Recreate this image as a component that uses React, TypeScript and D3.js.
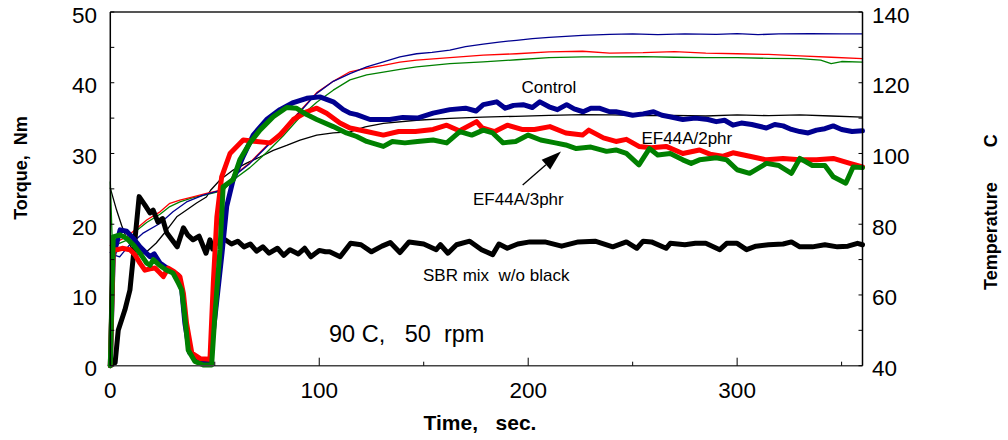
import React from "react";
import * as d3 from "d3";

type Pt = [number, number];

// Torque (left axis, Nm) — thick lines
const blackTorque: Pt[] = [[0,0],[2.3,0.4],[3.8,5],[7,7.9],[9.4,10.7],[11,15.4],[13.8,23.9],[16.6,22.7],[19,21.6],[20.5,22],[22.8,20.3],[25,20.8],[27,18.8],[29.5,17.8],[32,16.8],[35,19.5],[37,18.5],[39.6,17.8],[42.5,18.3],[45.8,15.9],[47.7,17.8],[49,16.5],[51,17.5],[55,17.8],[58,17.2],[61,17.6],[64,16.8],[67,17.2],[70,16.2],[73,16.8],[76,15.9],[80,16.6],[83,15.6],[86,16.4],[90,15.8],[93,16.6],[96,15.4],[100,16.3],[103,16.1],[105,16.1],[110,15.4],[115,17.3],[120,17.1],[125,16.1],[130,16.9],[134,17.4],[138.6,16],[143,17.5],[150,17.2],[156,16.4],[158,17.1],[161.6,15.9],[165.7,17.1],[172,17.6],[177.7,16.4],[183,15.7],[186,17.2],[190,16.6],[195,17.2],[200.8,17.5],[208,17.5],[216,16.9],[224,17.5],[232,17.6],[240.5,16.8],[247,17.5],[252,16.6],[255,17.6],[259,17.5],[266,16.6],[268,17.3],[275,17.1],[280,17.3],[285,17.3],[291.7,16.4],[295,17.3],[300,17.3],[304.5,16.4],[309,16.9],[315,17.1],[322,17.2],[326,17.5],[330,16.8],[336,16.8],[342,17.1],[348,16.8],[353,16.9],[357.6,17.3],[360,17.1]];
const blueTorque: Pt[] = [[0,0],[1.4,15.4],[4.7,19.2],[7.8,19],[11,18],[14.2,16.8],[19,15.4],[21,15.8],[23.8,14.5],[28.6,13.5],[32.5,12.8],[34.2,10.7],[35.7,6],[38,1.8],[43,0.8],[47.7,0.6],[51,9.3],[53.5,16],[55.7,22.5],[58.8,26.3],[63.6,29.6],[68.4,32.6],[74.8,34.8],[81.2,36.2],[87.6,37.2],[94,37.8],[100.3,38],[106.7,37.3],[111.5,36.2],[114.7,35.7],[117.9,35.5],[124.3,34.8],[133.8,34.8],[140,35.1],[147,35],[154.5,35.7],[162.5,36.2],[170,36.4],[175,36],[178.5,36.9],[184.9,37.3],[189,36.4],[193,36.8],[197.6,36.9],[202,36.5],[205.6,37.3],[210,36.6],[214,36.2],[218.4,36.9],[222,36.3],[226.3,35.9],[230,36.4],[234,36.4],[239,35.9],[242,35.9],[250,35.4],[255,35.6],[260,35.9],[264,35.4],[267.8,35.2],[274,34.8],[280,35],[286,34.8],[290,34.5],[294,34.7],[298,34],[302,34.3],[307,34.1],[314,33.6],[318,34.1],[322,33.9],[326,33.4],[330,33.1],[334,32.9],[338,33.3],[342,33.5],[346,33.9],[350,33.4],[355,33.1],[360,33.2]];
const redTorque: Pt[] = [[0,0],[1.4,16.4],[3.5,16.4],[5.7,16.6],[9.4,16.4],[11.8,15.7],[14.2,14.5],[16.6,13.5],[19,13.7],[21.4,13.8],[23.8,13.1],[25.4,12.6],[27.7,13.8],[30.5,13.3],[33.3,12.6],[35,10.2],[36.5,6],[39,1.8],[43,1],[47.7,0.9],[49.3,11.7],[51,21],[53.3,26.7],[57.3,30],[63.6,31.9],[70,31.7],[76.4,31.5],[81.2,32.6],[87.6,34.8],[94,35.9],[98.8,36.4],[103.5,35.7],[109.9,34.3],[114.7,33.6],[122.7,33.1],[130.7,32.6],[138,33.1],[146,33.1],[154.5,33.4],[161,34],[167,33.2],[175.3,34.5],[178,33.6],[184,33.1],[190,34],[197,33.4],[203,33.4],[210.4,33.8],[218,32.9],[226,32.6],[229,33.3],[236,32.2],[242,31.7],[247,32],[253,31],[259,30.8],[266,31],[274,30],[282,30.5],[287,29.9],[293,29.6],[298,30.1],[306,29.6],[314,29.1],[322,29.3],[330,29.1],[338,29.1],[346,29.3],[354,28.6],[360,28.1]];
const greenTorque: Pt[] = [[0,0],[1.4,18.2],[4.7,18.5],[7.8,18],[11,17.1],[14.2,15.9],[17.4,14.5],[19,14.2],[20.6,15],[23.5,14.2],[27,13.5],[30,13.1],[32.5,11.7],[34.2,10.7],[35.7,6.9],[37.3,2.2],[40.5,0.6],[44.5,0.1],[48.5,0.1],[50,6.9],[52.5,16.4],[54,25.3],[58.8,26.3],[62,29.1],[66.8,31.5],[71.6,33.3],[78,35.2],[84.4,36.5],[89,36.4],[94,35.5],[98.8,34.8],[106.7,33.8],[113,32.9],[117.9,32.4],[122.7,31.7],[130.7,31],[135,31.7],[141,31.5],[147,31.7],[154.5,31.9],[161,31.5],[167.3,33.1],[173,32.6],[178.5,33.3],[183,32.9],[188,31.5],[194,31.7],[200,32.6],[206,31.9],[213,31.5],[218,31.2],[223,30.7],[230,30.9],[237.5,30.3],[242,30.5],[247,30],[253,28.4],[258,30.7],[262,29.8],[268,30],[274,29.1],[278,28.6],[282,29.1],[290,29.4],[295,29.1],[300,27.7],[306,27.2],[314,28.6],[320,28.3],[326,27.2],[330,29.3],[336,28.3],[342,28.3],[346,26.7],[352,25.8],[355.5,28.1],[360,28]];

// Temperature (right axis, C) — thin lines
const blackTemp: Pt[] = [[0,90.2],[3,84],[5.4,79.7],[7.8,76],[10.2,73.2],[13,71.3],[17.4,72.2],[22,74.7],[27,78.3],[31.8,82.1],[36.5,84],[41.3,86],[46,87.7],[48,89.6],[52.5,92.5],[58.8,95.3],[65,97.2],[71.6,99],[78,100.9],[84.4,102.3],[90.8,103.8],[98.8,105.2],[106.7,105.8],[114.7,106.1],[122,107.5],[130.7,108.5],[146.6,109.4],[162.5,109.9],[178,110.3],[194,110.5],[210,110.8],[226,111],[240,110.9],[255,110.7],[269,110.8],[285,110.6],[300,110.9],[315,110.7],[330,110.9],[345,110.6],[360,110.3]];
const blueTemp: Pt[] = [[0,72],[1.5,71.3],[4.5,70.8],[9,74],[15.5,77.4],[23.7,80.2],[30,83.5],[36.5,86.3],[44.5,88.2],[54,89.8],[58.8,93.4],[66.8,97.2],[74.8,101.9],[82.8,106.6],[90.8,111.8],[98.8,117],[106.7,120.4],[114.7,122.6],[122.7,124.5],[130.7,125.9],[138.6,127.3],[146.6,128.2],[154,128.6],[162.5,129.2],[170,130.2],[178.5,130.9],[186,131.5],[194.4,132],[202,132.5],[210,132.8],[218,133.1],[226,133.4],[239,133.7],[250,133.8],[262,133.6],[275,133.8],[290,133.7],[300,133.9],[310,133.6],[320,133.8],[335,133.9],[350,133.8],[360,133.8]];
const redTemp: Pt[] = [[0,74],[3,75],[7.8,76.4],[12.6,78.8],[17.4,81.2],[23.8,83.5],[28.5,85.9],[33.3,86.8],[39.6,87.7],[46,88.7],[54,89.8],[58.8,93.6],[66.8,97.4],[74.8,102.2],[82.8,106.9],[90.8,112],[98.8,117.2],[106.7,120.4],[114.7,123.1],[122.7,124.1],[130.7,124.9],[138.6,125.8],[146.6,126.4],[162.5,127.1],[178.5,127.8],[194.4,128.2],[210,128.7],[226,128.9],[239,128.4],[255,128.5],[270,128.8],[285,128.4],[300,128.2],[315,128],[330,127.6],[345,127.2],[360,126.8]];
const greenTemp: Pt[] = [[0,92],[1,74],[4,74.5],[8,75.5],[12.6,78.2],[17.4,80.5],[23.8,82.8],[28.5,85],[33.3,86.3],[39.6,87.5],[46,88.4],[54,89.5],[58.8,92.5],[66.8,96],[74.8,100.3],[82.8,105],[90.8,110.3],[98.8,114.5],[106.7,117.9],[114.7,120.8],[122.7,122.2],[130.7,123],[138.6,123.8],[146.6,124.5],[162.5,125.4],[178.5,125.9],[194.4,126.5],[210,127.1],[226,127.3],[239,127.3],[255,127.4],[270,127.2],[285,127.1],[300,127.1],[315,126.9],[330,126.8],[340,126.4],[345,125.4],[350,126],[360,125.8]];

const xTicks = [0, 100, 200, 300];
const xMinor = [50, 150, 250, 350];
const yTicks = [0, 10, 20, 30, 40, 50];
const yMinor = [0, 5, 10, 15, 20, 25, 30, 35, 40, 45, 50];
const tTicks = [40, 60, 80, 100, 120, 140];
const tMinor = [40, 50, 60, 70, 80, 90, 100, 110, 120, 130, 140];

const W = 1008, H = 440;
const L = 110.3, R = 862.5, T = 12, B = 365.7;
const FONT = "Liberation Sans, Arial, sans-serif";
const sp = (n: number) => "\u00a0".repeat(n);

export default function App() {
  const x = d3.scaleLinear().domain([0, 360]).range([L, R]);
  const y = d3.scaleLinear().domain([0, 50]).range([B, T]);
  const yT = d3.scaleLinear().domain([40, 140]).range([B, T]);
  const lineL = d3.line<Pt>().x(d => x(d[0])).y(d => y(d[1]));
  const lineR = d3.line<Pt>().x(d => x(d[0])).y(d => yT(d[1]));

  const thin = [
    { d: blackTemp, c: "#000000" },
    { d: greenTemp, c: "#008000" },
    { d: redTemp, c: "#ff0000" },
    { d: blueTemp, c: "#000090" },
  ];
  const thick = [
    { d: blackTorque, c: "#000000" },
    { d: blueTorque, c: "#000090" },
    { d: redTorque, c: "#ff0000" },
    { d: greenTorque, c: "#008000" },
  ];

  // arrow
  const ax0 = 522.7, ay0 = 185, ax1 = 561, ay1 = 151.5;
  const ang = Math.atan2(ay1 - ay0, ax1 - ax0);
  const hl = 20, hw = 6.5;
  const bx = ax1 - hl * Math.cos(ang), by = ay1 - hl * Math.sin(ang);
  const px = -Math.sin(ang), py = Math.cos(ang);

  return (
    <svg width={W} height={H} style={{ position: "absolute", left: 0, top: 0, background: "#fff" }} fontFamily={FONT}>
      <rect x={0} y={0} width={W} height={H} fill="#fff" />
      <g fill="none" strokeLinejoin="round" strokeLinecap="round">
        {thin.map((s, i) => <path key={"t" + i} d={lineR(s.d) || ""} stroke={s.c} strokeWidth={1.3} />)}
        {thick.map((s, i) => <path key={"k" + i} d={lineL(s.d) || ""} stroke={s.c} strokeWidth={5} />)}
      </g>
      <line x1={L} x2={R} y1={T} y2={T} stroke="#555" strokeWidth={2} />
      <line x1={L} x2={R} y1={B} y2={B} stroke="#444" strokeWidth={1.5} />
      <line x1={L} x2={L} y1={T} y2={B} stroke="#000" strokeWidth={1.5} />
      <line x1={R} x2={R} y1={T} y2={B} stroke="#000" strokeWidth={1.5} />
      {yMinor.map(v => <line key={"ym" + v} x1={L} x2={L + 4} y1={y(v)} y2={y(v)} stroke="#000" strokeWidth={1} />)}
      {tMinor.map(v => <line key={"tm" + v} x1={R - 4} x2={R} y1={yT(v)} y2={yT(v)} stroke="#000" strokeWidth={1} />)}
      {xTicks.map(v => <line key={"xt" + v} x1={x(v)} x2={x(v)} y1={B} y2={B - 8} stroke="#000" strokeWidth={1} />)}
      {xMinor.map(v => <line key={"xm" + v} x1={x(v)} x2={x(v)} y1={B} y2={B - 4} stroke="#000" strokeWidth={1} />)}
      <g fontSize={22.5} fill="#000">
        {yTicks.map(v => <text key={"yl" + v} x={97} y={y(v) + 10.5} textAnchor="end">{v}</text>)}
        {tTicks.map(v => <text key={"tl" + v} x={872} y={yT(v) + 10.5} textAnchor="start">{v}</text>)}
        {xTicks.map(v => <text key={"xl" + v} x={x(v)} y={397.5} textAnchor="middle">{v}</text>)}
      </g>
      <g fontSize={18} fontWeight="bold" fill="#000">
        <text transform="translate(27,168) rotate(-90)" textAnchor="middle">{"Torque," + sp(2) + "Nm"}</text>
        <text transform="translate(997,290) rotate(-90)" textAnchor="start">{"Temperature" + sp(7) + "C"}</text>
        <text x={480} y={430} fontSize={21} textAnchor="middle">{"Time," + sp(3) + "sec."}</text>
      </g>
      <g fontSize={17} fill="#000">
        <text x={521.5} y={92.5}>Control</text>
        <text x={641.5} y={144}>EF44A/2phr</text>
        <text x={473} y={205}>EF44A/3phr</text>
        <text x={423} y={281}>{"SBR mix" + sp(2) + "w/o black"}</text>
      </g>
      <text x={329} y={342} fontSize={23.5} fill="#000">{"90 C," + sp(3) + "50" + sp(2) + "rpm"}</text>
      <line x1={ax0} y1={ay0} x2={bx} y2={by} stroke="#000" strokeWidth={1.3} />
      <polygon points={`${ax1},${ay1} ${bx + px * hw},${by + py * hw} ${bx - px * hw},${by - py * hw}`} fill="#000" />
    </svg>
  );
}
